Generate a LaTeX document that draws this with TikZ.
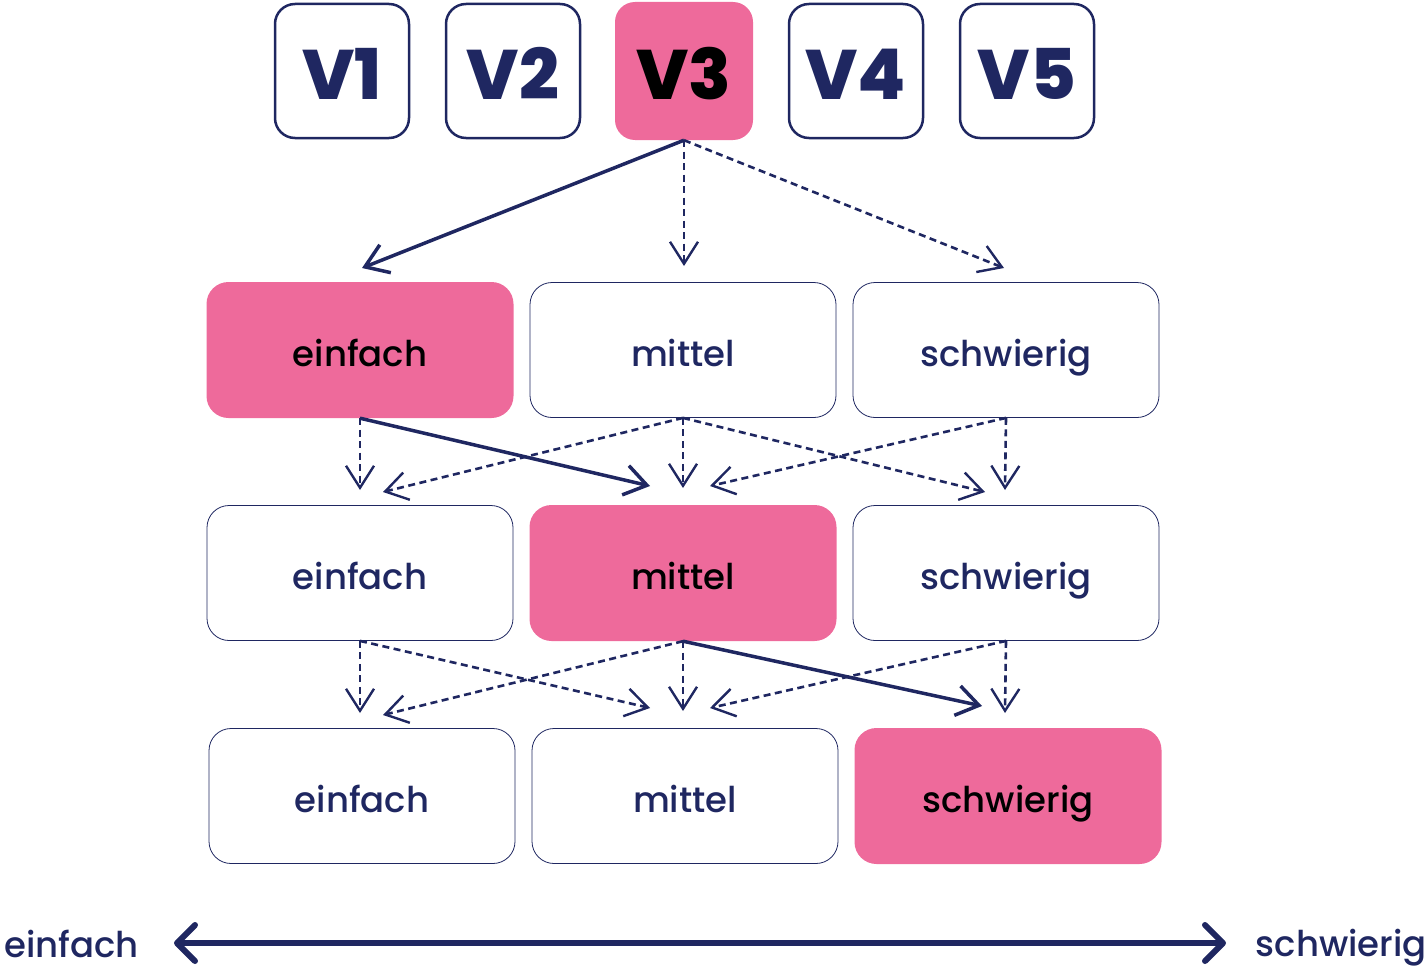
\documentclass[tikz,border=0pt]{standalone}
\usepackage{fontspec}
\setmainfont{Poppins}
\newfontfamily\medfont{Poppins Medium}
\newfontfamily\xbfont{Poppins ExtraBold}
\usetikzlibrary{arrows.meta}
\definecolor{navy}{HTML}{1F2761}
\definecolor{pinkc}{HTML}{EE6A9B}
\tikzset{
  vbox/.style={draw=navy, line width=2.5pt, rounded corners=20pt, minimum width=134pt, minimum height=134pt, inner sep=0pt, text height=57pt, text depth=0pt, text=navy, font=\xbfont\fontsize{70}{70}\selectfont},
  vsel/.style={fill=pinkc, draw=none, rounded corners=20pt, minimum width=138pt, minimum height=138pt, inner sep=0pt, text height=57pt, text depth=0pt, text=black, font=\xbfont\fontsize{70}{70}\selectfont},
  lvbox/.style={draw=navy, line width=0.8pt, rounded corners=22pt, minimum width=306pt, minimum height=135pt, inner sep=0pt, text height=32pt, text depth=0pt, text=navy, font=\medfont\fontsize{35.5}{36}\selectfont},
  lvsel/.style={fill=pinkc, draw=none, rounded corners=22pt, minimum width=307pt, minimum height=136pt, inner sep=0pt, text height=32pt, text depth=0pt, text=black, font=\medfont\fontsize{35.5}{36}\selectfont},
  dash link/.style={draw=navy, line width=2.6pt, dash pattern=on 7pt off 4.5pt, -{Straight Barb[length=22pt, width=28pt, line width=2.4pt]}},
  solid link/.style={draw=navy, line width=3.5pt, -{Straight Barb[length=22pt, width=30pt, line width=3.5pt]}},
  scale label/.style={text=navy, font=\medfont\fontsize{35.5}{36}\selectfont, inner sep=0pt}
}
\begin{document}
\begin{tikzpicture}[x=1pt, y=-1pt]
\useasboundingbox (0,0) rectangle (1427,966);
% version boxes
\node[vbox] (v1) at (342,71) {V1};
\node[vbox] (v2) at (513,71) {V2};
\node[vsel] (v3) at (684,71) {V3};
\node[vbox] (v4) at (856,71) {V4};
\node[vbox] (v5) at (1027,71) {V5};
% level rows
\node[lvsel] (e1) at (360,350) {einfach};
\node[lvbox] (m1) at (683,350) {mittel};
\node[lvbox] (s1) at (1006,350) {schwierig};
\node[lvbox] (e2) at (360,573) {einfach};
\node[lvsel] (m2) at (683,573) {mittel};
\node[lvbox] (s2) at (1006,573) {schwierig};
\node[lvbox] (e3) at (362,796) {einfach};
\node[lvbox] (m3) at (685,796) {mittel};
\node[lvsel] (s3) at (1008,796) {schwierig};
% target points
\coordinate (t0l) at (362,268);
\coordinate (t0m) at (684,266);
\coordinate (t0r) at (1004,268);
\coordinate (t1a) at (360,490);
\coordinate (t1b) at (383,492);
\coordinate (t1c) at (650,486);
\coordinate (t1d) at (683,488);
\coordinate (t1e) at (710,486);
\coordinate (t1f) at (985,492);
\coordinate (t1g) at (1005,490);
\coordinate (t2a) at (360,713);
\coordinate (t2b) at (383,715);
\coordinate (t2c) at (650,708);
\coordinate (t2d) at (683,711);
\coordinate (t2e) at (710,708);
\coordinate (t2f) at (982,706);
\coordinate (t2g) at (1005,713);
% V3 links
\draw[solid link] (v3.south) -- (t0l);
\draw[dash link] (v3.south) -- (t0m);
\draw[dash link] (v3.south) -- (t0r);
% row1 -> row2
\draw[dash link] (e1.south) -- (t1a);
\draw[solid link] (e1.south) -- (t1c);
\draw[dash link] (m1.south) -- (t1b);
\draw[dash link] (m1.south) -- (t1d);
\draw[dash link] (m1.south) -- (t1f);
\draw[dash link] (s1.south) -- (t1e);
\draw[dash link] (s1.south) -- (t1g);
% row2 -> row3
\draw[dash link] (e2.south) -- (t2a);
\draw[dash link] (e2.south) -- (t2c);
\draw[dash link] (m2.south) -- (t2b);
\draw[dash link] (m2.south) -- (t2d);
\draw[solid link] (m2.south) -- (t2f);
\draw[dash link] (s2.south) -- (t2e);
\draw[dash link] (s2.south) -- (t2g);
% scale
\node[scale label, anchor=base west] (lo) at (4,957) {einfach};
\node[scale label, anchor=base east] (hi) at (1427,956) {schwierig};
\coordinate (al) at (174,943);
\coordinate (ar) at (1226,943);
\draw[navy, line width=6pt, line cap=round, {Straight Barb[length=18pt, width=36pt, line width=6pt, round]}-{Straight Barb[length=18pt, width=36pt, line width=6pt, round]}] (al) -- (ar);
\end{tikzpicture}
\end{document}
